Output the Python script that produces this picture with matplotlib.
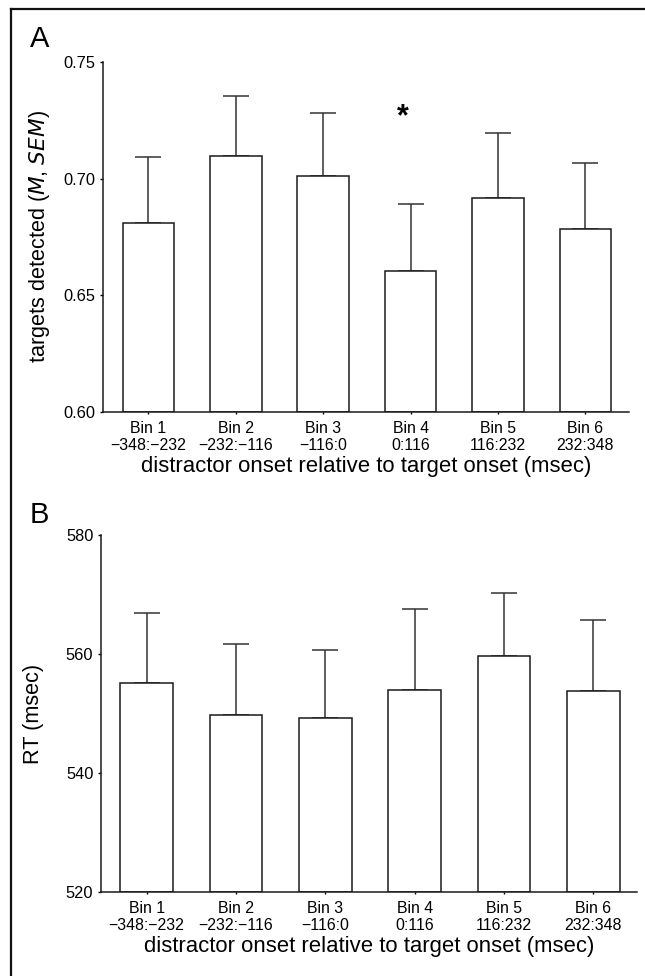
import matplotlib
matplotlib.use('Agg')
import matplotlib.pyplot as plt
from matplotlib.lines import Line2D

plt.rcParams['font.family'] = ['Liberation Sans', 'DejaVu Sans']

# data
bins = ['Bin 1', 'Bin 2', 'Bin 3', 'Bin 4', 'Bin 5', 'Bin 6']
ranges = ['\u2212348:\u2212232', '\u2212232:\u2212116', '\u2212116:0', '0:116', '116:232', '232:348']
detected_mean = [0.681, 0.7095, 0.7013, 0.6606, 0.6918, 0.6783]
detected_sem = [0.0283, 0.0261, 0.0270, 0.0286, 0.0276, 0.0286]
rt_mean = [555.2, 549.7, 549.3, 554.0, 559.7, 553.7]
rt_sem = [11.7, 12.0, 11.4, 13.6, 10.5, 12.0]
sig_bin = 3

tick_labels = [b + '\n' + r for b, r in zip(bins, ranges)]
xlabel = 'distractor onset relative to target onset (msec)'


def bar_panel(ax, mean, sem, ylim, yticks, ytick_fmt):
    x = range(len(mean))
    ax.bar(x, [m - ylim[0] for m in mean], 0.59, bottom=ylim[0], color='white',
           edgecolor='#1a1a1a', linewidth=1.1, zorder=2)
    ax.errorbar(x, mean, yerr=[[0] * len(sem), sem], fmt='none', ecolor='#333333',
                elinewidth=1.1, capsize=9.7, capthick=1.1, zorder=1)
    ax.set_ylim(ylim)
    ax.set_yticks(yticks)
    ax.set_yticklabels([ytick_fmt % t for t in yticks])
    ax.set_xticks(list(x))
    ax.set_xticklabels(tick_labels, fontsize=11.4, linespacing=1.2)
    ax.spines['top'].set_visible(False)
    ax.spines['right'].set_visible(False)
    for s in ['left', 'bottom']:
        ax.spines[s].set_linewidth(1.1)
        ax.spines[s].set_color('#1a1a1a')
    ax.tick_params(axis='y', length=2, width=1, pad=3.5, labelsize=11.8)
    ax.tick_params(axis='x', length=1.5, width=1, pad=5, labelsize=11.4)
    ax.set_xlabel(xlabel, fontsize=15.9, labelpad=2)


fig = plt.figure(figsize=(6.45, 9.76), dpi=100)

ax1 = fig.add_axes([0.1597, 0.5779, 0.8155, 0.3586])
bar_panel(ax1, detected_mean, detected_sem, (0.60, 0.75), [0.60, 0.65, 0.70, 0.75], '%.2f')
ax1.set_xlim(-0.52, 5.5)
ax1.set_ylabel('targets detected ($\\it{M}$, $\\it{SEM}$)', fontsize=15.6)
ax1.yaxis.set_label_coords(-0.097, 0.5)
ax1.text(sig_bin - 0.09, 0.7262, '*', fontsize=22, fontweight='bold', ha='center', va='center')

ax2 = fig.add_axes([0.1566, 0.0861, 0.831, 0.3658])
bar_panel(ax2, rt_mean, rt_sem, (520, 580), [520, 540, 560, 580], '%d')
ax2.set_xlim(-0.51, 5.49)
ax2.set_ylabel('RT (msec)', fontsize=15.6)
ax2.yaxis.set_label_coords(-0.106, 0.5)

fig.text(30 / 645, 1 - 47 / 976, 'A', fontsize=21)
fig.text(30 / 645, 1 - 523 / 976, 'B', fontsize=21)

# outer frame: only left and top edges fall inside the picture
fx = 10.5 / 645
fy = 1 - 8.5 / 976
fig.add_artist(Line2D([fx, fx], [0, fy], transform=fig.transFigure, color='#111111', linewidth=1.6))
fig.add_artist(Line2D([fx, 1], [fy, fy], transform=fig.transFigure, color='#111111', linewidth=1.6))

fig.savefig('out.png', dpi=100)
